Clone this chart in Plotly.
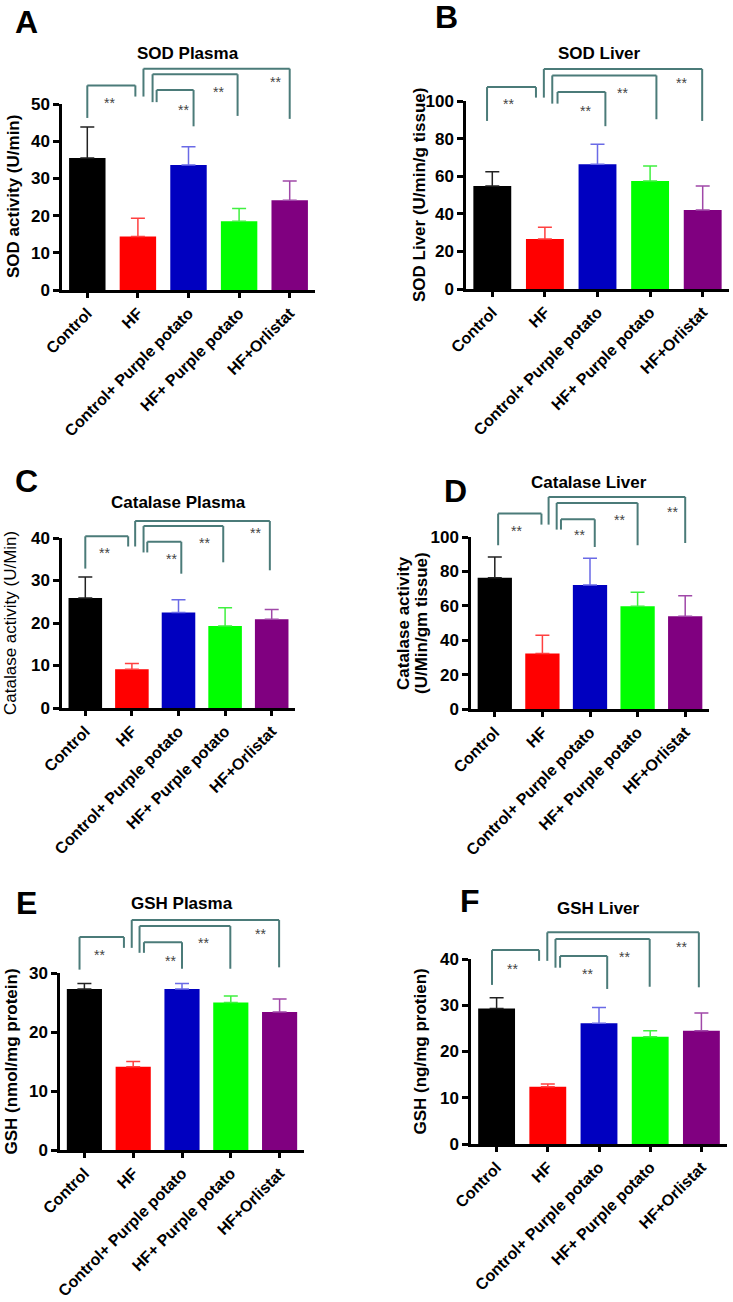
import plotly.graph_objects as go

# ---------------- data ----------------
groups = ["Control", "HF", "Control+ Purple potato", "HF+ Purple potato", "HF+Orlistat"]

sod_plasma_mean = [35.5, 14.4, 33.6, 18.5, 24.1]
sod_plasma_sem = [8.3, 4.9, 4.9, 3.4, 5.2]

sod_liver_mean = [54.8, 26.6, 66.4, 57.4, 42.0]
sod_liver_sem = [7.6, 6.2, 10.6, 8.0, 12.8]

cat_plasma_mean = [25.9, 9.1, 22.5, 19.3, 20.9]
cat_plasma_sem = [4.9, 1.4, 3.0, 4.3, 2.3]

cat_liver_mean = [76.3, 32.3, 72.1, 59.7, 53.9]
cat_liver_sem = [12.1, 10.6, 15.6, 8.2, 12.0]

gsh_plasma_mean = [27.3, 14.1, 27.3, 25.0, 23.4]
gsh_plasma_sem = [0.9, 0.9, 0.9, 1.1, 2.2]

gsh_liver_mean = [29.3, 12.4, 26.1, 23.2, 24.5]
gsh_liver_sem = [2.3, 0.6, 3.4, 1.3, 3.8]

sig_label = "**"

# ---------------- styles ----------------
bar_colors = ["#000000", "#FF0000", "#0000C0", "#00FF00", "#800080"]
err_colors = ["#222222", "#FF4040", "#6A6AE6", "#40F040", "#A048A8"]
bracket_color = "#4B7B79"
FONT = "Liberation Sans, Arial, sans-serif"
W, H = 733, 1302


def px_x(p):
    return p / W


def px_y(p):
    return 1 - p / H


# layout of each panel (pixel boxes of plot area, label positions, bracket geometry)
panels = [
    dict(letter="A", title="SOD Plasma", ytitle=["SOD activity (U/min)"], ybold=True,
         mean=sod_plasma_mean, sem=sod_plasma_sem, ymax=50, dtick=10,
         box=(62, 315, 104, 290), title_xy=(188, 53), letter_xy=(27, 22), ytitle_x=[13],
         brackets=[(0.0, 0.95, 1.10, 0.925, 1.04, 0.43, 1.026),
                   (1.11, 4.0, 1.19, 1.04, 0.92, 3.72, 1.14),
                   (1.29, 2.97, 1.16, 1.01, 0.936, 2.6, 1.086),
                   (1.37, 2.1, 1.075, 1.01, 0.88, 1.9, 0.99)]),
    dict(letter="B", title="SOD Liver", ytitle=["SOD Liver (U/min/g tissue)"], ybold=True,
         mean=sod_liver_mean, sem=sod_liver_sem, ymax=100, dtick=20,
         box=(466, 729, 101, 289), title_xy=(599, 53), letter_xy=(446, 17), ytitle_x=[420],
         brackets=[(-0.1, 0.83, 1.074, 0.894, 1.018, 0.31, 1.004),
                   (0.98, 3.99, 1.17, 1.018, 0.894, 3.6, 1.115),
                   (1.14, 3.12, 1.136, 0.986, 0.903, 2.47, 1.065),
                   (1.24, 2.15, 1.048, 0.986, 0.866, 1.77, 0.968)]),
    dict(letter="C", title="Catalase Plasma", ytitle=["Catalase activity (U/Min)"], ybold=False,
         mean=cat_plasma_mean, sem=cat_plasma_sem, ymax=40, dtick=10,
         box=(62, 295, 538, 708), title_xy=(178, 502), letter_xy=(27, 481), ytitle_x=[10],
         brackets=[(0.0, 0.92, 1.01, 0.82, 0.95, 0.41, 0.935),
                   (1.07, 3.96, 1.10, 0.95, 0.81, 3.66, 1.05),
                   (1.25, 2.96, 1.07, 0.915, 0.857, 2.55, 0.995),
                   (1.33, 2.06, 0.978, 0.915, 0.79, 1.84, 0.898)]),
    dict(letter="D", title="Catalase Liver", ytitle=["Catalase activity", "(U/Min/gm tissue)"], ybold=True,
         mean=cat_liver_mean, sem=cat_liver_sem, ymax=100, dtick=20,
         box=(471, 709, 537, 709), title_xy=(589, 482), letter_xy=(456, 491), ytitle_x=[403, 421],
         brackets=[(0.07, 0.98, 1.136, 0.952, 1.072, 0.46, 1.058),
                   (1.13, 4.0, 1.233, 1.072, 0.965, 3.73, 1.17),
                   (1.3, 3.0, 1.198, 1.043, 0.952, 2.61, 1.12),
                   (1.39, 2.1, 1.103, 1.043, 0.942, 1.77, 1.033)]),
    dict(letter="E", title="GSH Plasma", ytitle=["GSH (nmol/mg protein)"], ybold=True,
         mean=gsh_plasma_mean, sem=gsh_plasma_sem, ymax=30, dtick=10,
         box=(60, 304, 973, 1150), title_xy=(182, 903), letter_xy=(26, 903), ytitle_x=[11],
         brackets=[(-0.1, 0.81, 1.203, 1.019, 1.142, 0.31, 1.127),
                   (0.97, 3.99, 1.299, 1.142, 1.032, 3.6, 1.244),
                   (1.13, 2.99, 1.265, 1.114, 1.024, 2.45, 1.19),
                   (1.22, 2.0, 1.174, 1.114, 1.024, 1.76, 1.091)]),
    dict(letter="F", title="GSH Liver", ytitle=["GSH (ng/mg protien)"], ybold=True,
         mean=gsh_liver_mean, sem=gsh_liver_sem, ymax=40, dtick=10,
         box=(471, 727, 959, 1144), title_xy=(598, 908), letter_xy=(470, 901), ytitle_x=[420],
         brackets=[(-0.09, 0.83, 1.048, 0.86, 0.99, 0.32, 0.97),
                   (0.99, 3.95, 1.144, 0.99, 0.847, 3.62, 1.088),
                   (1.15, 2.99, 1.108, 0.953, 0.85, 2.49, 1.035),
                   (1.24, 2.16, 1.016, 0.953, 0.838, 1.78, 0.94)]),
]

fig = go.Figure()
shapes = []
annotations = []
layout_axes = {}

for n, p in enumerate(panels, start=1):
    xa = "x" if n == 1 else f"x{n}"
    ya = "y" if n == 1 else f"y{n}"
    for i, g in enumerate(groups):
        fig.add_trace(go.Bar(
            x=[g], y=[p["mean"][i]], xaxis=xa, yaxis=ya, width=0.72,
            marker=dict(color=bar_colors[i], line=dict(width=0)),
            error_y=dict(type="data", array=[p["sem"][i]], arrayminus=[0], symmetric=False,
                         color=err_colors[i], thickness=1.5, width=7),
            showlegend=False, hoverinfo="x+y",
        ))
    x0, x1, yt, yb = p["box"]
    xkey = "xaxis" if n == 1 else f"xaxis{n}"
    ykey = "yaxis" if n == 1 else f"yaxis{n}"
    layout_axes[xkey] = dict(
        domain=[px_x(x0), px_x(x1)], anchor=ya, type="category",
        categoryorder="array", categoryarray=groups, range=[-0.5, len(groups) - 0.5],
        showline=True, linecolor="black", linewidth=2.5, mirror=False,
        ticks="outside", ticklen=5, tickwidth=2.5, tickcolor="black",
        tickangle=-45, tickfont=dict(family=FONT, size=16, color="black", weight="bold"),
        showgrid=False, zeroline=False, automargin=False, fixedrange=True,
    )
    layout_axes[ykey] = dict(
        domain=[px_y(yb), px_y(yt)], anchor=xa, range=[0, p["ymax"]],
        tickmode="array", tickvals=list(range(0, p["ymax"] + 1, p["dtick"])),
        showline=True, linecolor="black", linewidth=2.5,
        ticks="outside", ticklen=6, tickwidth=2.5, tickcolor="black",
        tickfont=dict(family=FONT, size=17, color="black", weight="bold"),
        showgrid=False, zeroline=False, automargin=False, fixedrange=True,
    )

    # title, panel letter, y-axis title
    annotations.append(dict(text=p["title"], x=px_x(p["title_xy"][0]), y=px_y(p["title_xy"][1]),
                            xref="paper", yref="paper", showarrow=False, xanchor="center", yanchor="middle",
                            font=dict(family=FONT, size=17, color="black", weight="bold")))
    annotations.append(dict(text=p["letter"], x=px_x(p["letter_xy"][0]), y=px_y(p["letter_xy"][1]),
                            xref="paper", yref="paper", showarrow=False, xanchor="center", yanchor="middle",
                            font=dict(family=FONT, size=32, color="black", weight="bold")))
    ymid = px_y((yt + yb) / 2)
    for line_text, lx in zip(p["ytitle"], p["ytitle_x"]):
        annotations.append(dict(text=line_text, x=px_x(lx), y=ymid, xref="paper", yref="paper",
                                showarrow=False, textangle=-90, xanchor="center", yanchor="middle",
                                font=dict(family=FONT, size=17, color="black",
                                          weight="bold" if p["ybold"] else "normal")))

    # significance brackets (domain-relative refs so they can sit above the axes)
    ncat = len(groups)
    xr = f"{xa} domain"
    yr = f"{ya} domain"
    for (bx0, bx1, top, lb, rb, sx, sy) in p["brackets"]:
        dx0 = (bx0 + 0.5) / ncat
        dx1 = (bx1 + 0.5) / ncat
        line = dict(color=bracket_color, width=2)
        shapes.append(dict(type="line", xref=xr, yref=yr, x0=dx0, x1=dx0, y0=lb, y1=top, line=line))
        shapes.append(dict(type="line", xref=xr, yref=yr, x0=dx0, x1=dx1, y0=top, y1=top, line=line))
        shapes.append(dict(type="line", xref=xr, yref=yr, x0=dx1, x1=dx1, y0=top, y1=rb, line=line))
        annotations.append(dict(text=sig_label, x=(sx + 0.5) / ncat, y=sy, xref=xr, yref=yr,
                                showarrow=False, xanchor="center", yanchor="middle", yshift=-4,
                                font=dict(family=FONT, size=14, color="#444444")))

fig.update_layout(
    width=W, height=H, autosize=False,
    margin=dict(l=0, r=0, t=0, b=0, pad=0),
    paper_bgcolor="white", plot_bgcolor="white",
    barmode="overlay", template="none",
    showlegend=False,
    shapes=shapes, annotations=annotations,
    **layout_axes,
)

fig.write_html("out.html")
